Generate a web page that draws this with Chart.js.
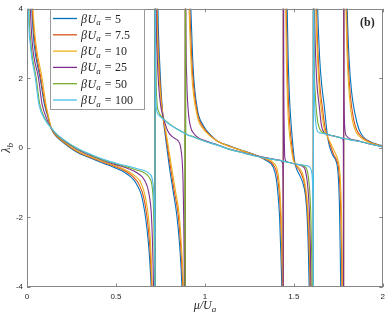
<!DOCTYPE html>
<html>
<head>
<meta charset="utf-8">
<script src="https://cdn.jsdelivr.net/npm/chart.js@4.4.0/dist/chart.umd.min.js"></script>
<style>
  html, body { margin: 0; padding: 0; background: #fff; }
  canvas { display: block; }
</style>
</head>
<body>
<canvas id="chart" width="390" height="317"></canvas>
<script>
// lambda_b against mu/U_a, one array of [mu, lambda] pairs per beta*U_a.
// Values past +-4 only carry the lines off the axes at the poles.
const b5 = [
  [0.008, 9], [0.02, 5], [0.027, 4], [0.04, 3], [0.074, 2.0], [0.098, 1.25], [0.12, 0.85], [0.137, 0.55],
  [0.17, 0.3], [0.2, 0.17], [0.28, -0.12], [0.37, -0.32], [0.46, -0.5], [0.53, -0.65], [0.57, -0.78],
  [0.6, -0.92], [0.62, -1.08], [0.644, -1.37], [0.665, -1.95], [0.68, -2.6], [0.69, -3.24], [0.70, -4.3], [0.7195, -9],
  [0.7205, 9], [0.732, 5], [0.738, 3.5], [0.744, 2.65], [0.752, 1.8], [0.764, 0.92], [0.776, 0.41], [0.80, -0.53],
  [0.82, -1.2], [0.842, -1.93], [0.858, -2.8], [0.871, -4.0], [0.876, -5], [0.8893, -9],
  [0.8907, 9], [0.905, 6], [0.921, 4], [0.935, 2.2], [0.958, 1.1], [0.99, 0.65], [1.03, 0.38], [1.069, 0.2],
  [1.143, 0.05], [1.22, -0.09], [1.29, -0.22], [1.34, -0.35], [1.384, -0.55], [1.40, -0.85], [1.41, -1.28],
  [1.42, -2.0], [1.428, -3.2], [1.433, -4.3], [1.4405, -9],
  [1.4415, 9], [1.455, 6], [1.462, 4.2], [1.468, 2.6], [1.476, 1.4], [1.486, 0.6], [1.496, 0.0], [1.505, -0.4],
  [1.515, -0.6], [1.532, -0.78], [1.55, -1.0], [1.565, -1.35], [1.575, -2.0], [1.582, -3.0], [1.587, -4.2], [1.6095, -9],
  [1.6105, 9], [1.625, 6], [1.634, 4], [1.645, 2.6], [1.657, 1.8], [1.67, 1.25], [1.68, 0.75], [1.689, 0.35],
  [1.70, 0.05], [1.72, -0.22], [1.735, -0.35], [1.745, -0.55], [1.752, -1.0], [1.757, -1.8], [1.761, -3.0],
  [1.764, -4.2], [1.7795, -9],
  [1.7805, 9], [1.792, 6], [1.80, 4], [1.81, 2.6], [1.825, 1.6], [1.845, 0.95], [1.865, 0.55], [1.89, 0.32],
  [1.93, 0.18], [1.97, 0.1], [2.0, 0.06]
];
const b7_5 = [
  [0.01, 9], [0.022, 5], [0.03, 4], [0.045, 3], [0.078, 2.0], [0.1, 1.3], [0.12, 0.88], [0.137, 0.55],
  [0.17, 0.32], [0.2, 0.19], [0.28, -0.1], [0.37, -0.3], [0.46, -0.47], [0.53, -0.61], [0.57, -0.72],
  [0.6, -0.85], [0.63, -1.05], [0.655, -1.4], [0.675, -2.0], [0.69, -2.8], [0.697, -3.5], [0.703, -4.3], [0.7195, -9],
  [0.7205, 9], [0.729, 5], [0.734, 3.5], [0.74, 2.65], [0.749, 1.8], [0.764, 0.92], [0.779, 0.41], [0.806, -0.53],
  [0.828, -1.25], [0.85, -1.93], [0.865, -2.9], [0.876, -4.0], [0.881, -5], [0.8893, -9],
  [0.8907, 9], [0.903, 6], [0.915, 4], [0.93, 2.2], [0.958, 1.0], [0.99, 0.6], [1.03, 0.36], [1.069, 0.2],
  [1.143, 0.04], [1.22, -0.1], [1.29, -0.22], [1.34, -0.32], [1.384, -0.48], [1.405, -0.75], [1.418, -1.28],
  [1.426, -2.0], [1.432, -3.0], [1.436, -4.2], [1.4405, -9],
  [1.4415, 9], [1.451, 6], [1.457, 4.2], [1.462, 2.6], [1.469, 1.4], [1.478, 0.6], [1.49, 0.0], [1.50, -0.35],
  [1.515, -0.53], [1.532, -0.65], [1.55, -0.85], [1.562, -1.09], [1.575, -1.7], [1.584, -2.6], [1.59, -3.6],
  [1.593, -4.3], [1.6095, -9],
  [1.6105, 9], [1.62, 6], [1.627, 4], [1.637, 2.6], [1.648, 1.7], [1.662, 1.1], [1.675, 0.6], [1.689, 0.33],
  [1.705, 0.08], [1.725, -0.2], [1.742, -0.37], [1.752, -0.6], [1.759, -1.1], [1.764, -1.9], [1.768, -3.0],
  [1.771, -4.2], [1.7795, -9],
  [1.7805, 9], [1.789, 6], [1.796, 4], [1.805, 2.5], [1.818, 1.5], [1.835, 0.85], [1.855, 0.5], [1.885, 0.3],
  [1.93, 0.16], [1.97, 0.09], [2.0, 0.05]
];
const b10 = [
  [0.012, 9], [0.025, 5], [0.033, 4], [0.05, 3], [0.085, 2.0], [0.105, 1.3], [0.122, 0.88], [0.137, 0.57],
  [0.17, 0.34], [0.2, 0.2], [0.28, -0.08], [0.37, -0.28], [0.46, -0.45], [0.53, -0.58], [0.57, -0.68],
  [0.61, -0.82], [0.64, -1.0], [0.665, -1.4], [0.685, -2.1], [0.697, -3.0], [0.705, -4.3], [0.7195, -9],
  [0.7205, 9], [0.727, 5], [0.731, 3.5], [0.737, 2.65], [0.746, 1.8], [0.764, 0.92], [0.782, 0.43], [0.812, -0.53],
  [0.835, -1.25], [0.856, -1.93], [0.869, -2.9], [0.879, -4.0], [0.883, -5], [0.8893, -9],
  [0.8907, 9], [0.901, 6], [0.911, 4], [0.925, 2.2], [0.958, 0.9], [0.99, 0.55], [1.03, 0.34], [1.069, 0.2],
  [1.143, 0.03], [1.22, -0.1], [1.29, -0.22], [1.34, -0.31], [1.384, -0.42], [1.41, -0.7], [1.422, -1.28],
  [1.43, -2.1], [1.435, -3.2], [1.438, -4.2], [1.4405, -9],
  [1.4415, 9], [1.449, 6], [1.454, 4.2], [1.458, 2.6], [1.464, 1.4], [1.472, 0.6], [1.485, 0.0], [1.497, -0.35],
  [1.515, -0.5], [1.535, -0.6], [1.55, -0.75], [1.565, -1.09], [1.578, -1.7], [1.587, -2.6], [1.593, -3.6],
  [1.596, -4.3], [1.6095, -9],
  [1.6105, 9], [1.618, 6], [1.624, 4], [1.633, 2.6], [1.643, 1.7], [1.655, 1.1], [1.669, 0.6], [1.689, 0.33],
  [1.71, 0.1], [1.73, -0.12], [1.748, -0.35], [1.758, -0.65], [1.764, -1.2], [1.769, -2.1], [1.772, -3.2],
  [1.774, -4.2], [1.7795, -9],
  [1.7805, 9], [1.787, 6], [1.793, 4], [1.801, 2.5], [1.812, 1.5], [1.828, 0.82], [1.85, 0.46], [1.88, 0.28],
  [1.93, 0.15], [1.97, 0.08], [2.0, 0.04]
];
const b25 = [
  [0.006, 9], [0.014, 5], [0.019, 4], [0.03, 3], [0.065, 2.0], [0.085, 1.25], [0.11, 0.85], [0.137, 0.56],
  [0.17, 0.36], [0.2, 0.23], [0.28, -0.04], [0.37, -0.25], [0.46, -0.42], [0.53, -0.53], [0.57, -0.6],
  [0.62, -0.72], [0.66, -0.92], [0.685, -1.3], [0.70, -2.0], [0.708, -3.2], [0.712, -4.3], [0.7195, -9],
  [0.7205, 9], [0.724, 5], [0.727, 3.5], [0.732, 2.65], [0.74, 1.8], [0.752, 1.2], [0.764, 0.92], [0.79, 0.5],
  [0.815, 0.33], [0.835, 0.26], [0.85, 0.2], [0.86, 0.1], [0.866, -0.06], [0.872, -0.35], [0.877, -0.9],
  [0.881, -2.0], [0.884, -3.5], [0.8855, -4.5], [0.8893, -9],
  [0.8907, 9], [0.893, 4], [0.898, 2.0], [0.906, 1.1], [0.92, 0.6], [0.94, 0.4], [0.958, 0.31], [1.0, 0.21],
  [1.07, 0.09], [1.143, -0.04], [1.22, -0.14], [1.29, -0.23], [1.384, -0.32], [1.425, -0.36], [1.436, -0.42],
  [1.4395, -1.0], [1.4405, -9],
  [1.4415, 9], [1.443, 3], [1.446, 0.5], [1.45, -0.3], [1.46, -0.4], [1.49, -0.44], [1.52, -0.48], [1.55, -0.53],
  [1.565, -0.65], [1.578, -1.09], [1.587, -1.8], [1.593, -2.8], [1.597, -4.2], [1.6095, -9],
  [1.6105, 9], [1.614, 5], [1.618, 3.5], [1.628, 2.0], [1.643, 1.2], [1.655, 0.65], [1.67, 0.44], [1.70, 0.37],
  [1.735, 0.33], [1.765, 0.29], [1.776, 0.25], [1.7785, 0.1], [1.7795, -9],
  [1.7805, 9], [1.782, 2], [1.786, 0.6], [1.795, 0.35], [1.85, 0.22], [1.884, 0.17], [1.94, 0.1], [2.0, 0.03]
];
const b50 = [
  [0.004, 9], [0.008, 5], [0.011, 4], [0.022, 3], [0.052, 2.0], [0.072, 1.25], [0.1, 0.85], [0.137, 0.57],
  [0.17, 0.37], [0.2, 0.25], [0.28, -0.02], [0.37, -0.23], [0.46, -0.4], [0.53, -0.5], [0.57, -0.56],
  [0.62, -0.64], [0.66, -0.72], [0.69, -0.87], [0.703, -1.1], [0.711, -1.7], [0.715, -2.8], [0.7175, -4.3], [0.7195, -9],
  [0.7205, 9], [0.7225, 4], [0.726, 2.0], [0.731, 1.3], [0.74, 1.05], [0.764, 0.86], [0.80, 0.69], [0.85, 0.53],
  [0.88, 0.45], [0.8875, 0.38], [0.8893, -9],
  [0.8907, 9], [0.8925, 0.42], [0.92, 0.35], [0.958, 0.27], [1.0, 0.19], [1.07, 0.08], [1.143, -0.05],
  [1.22, -0.15], [1.29, -0.24], [1.384, -0.33], [1.44, -0.38], [1.49, -0.44], [1.53, -0.48], [1.56, -0.53],
  [1.575, -0.65], [1.587, -1.09], [1.596, -2.0], [1.601, -3.3], [1.603, -4.3], [1.6095, -9],
  [1.6105, 9], [1.614, 3], [1.62, 1.6], [1.63, 0.9], [1.645, 0.55], [1.67, 0.43], [1.70, 0.38], [1.735, 0.33],
  [1.78, 0.27], [1.83, 0.22], [1.884, 0.17], [1.94, 0.1], [2.0, 0.03]
];
const b100 = [
  [0.003, 9], [0.006, 5], [0.008, 4], [0.018, 3], [0.047, 2.0], [0.067, 1.25], [0.1, 0.82], [0.137, 0.57],
  [0.17, 0.38], [0.2, 0.26], [0.28, 0.0], [0.37, -0.21], [0.46, -0.38], [0.53, -0.48], [0.57, -0.53],
  [0.62, -0.6], [0.66, -0.66], [0.69, -0.75], [0.705, -0.92], [0.713, -1.4], [0.717, -2.4], [0.7188, -4.3], [0.7195, -9],
  [0.7205, 9], [0.7222, 3], [0.724, 1.5], [0.728, 1.1], [0.74, 0.95], [0.764, 0.84], [0.80, 0.68], [0.85, 0.52],
  [0.89, 0.41], [0.958, 0.27], [1.0, 0.19], [1.07, 0.08], [1.143, -0.05], [1.22, -0.15], [1.29, -0.24],
  [1.384, -0.33], [1.44, -0.38], [1.49, -0.44], [1.53, -0.48], [1.57, -0.51], [1.59, -0.56], [1.60, -0.7],
  [1.605, -1.0], [1.6075, -1.8], [1.609, -4], [1.6095, -9],
  [1.6105, 9], [1.613, 3], [1.617, 1.3], [1.624, 0.7], [1.634, 0.47], [1.67, 0.41], [1.70, 0.37], [1.735, 0.33],
  [1.78, 0.27], [1.83, 0.22], [1.884, 0.17], [1.94, 0.1], [2.0, 0.03]
];

const betaLabels = ['5', '7.5', '10', '25', '50', '100'];
const colours = ['#0072BD', '#D95319', '#EDB120', '#7E2F8E', '#77AC30', '#4DBEEE'];
const muTicks = [0, 0.5, 1, 1.5, 2];
const lamTicks = [-4, -2, 0, 2, 4];

const series = [b5, b7_5, b10, b25, b50, b100];

const AXIS_COL = '#868686';
const TEXT_COL = '#262626';

// draws "<main>_<sub>" in italic serif
function mathText(ctx, main, sub, x, y, size) {
    ctx.font = `italic ${size}px "Liberation Serif"`;
    ctx.fillText(main, x, y);
    const w = ctx.measureText(main).width;
    ctx.font = `italic ${Math.round(size * 0.72)}px "Liberation Serif"`;
    ctx.fillText(sub, x + w, y + size * 0.22);
}

function mathWidth(ctx, main, sub, size) {
    ctx.font = `italic ${size}px "Liberation Serif"`;
    const w = ctx.measureText(main).width;
    ctx.font = `italic ${Math.round(size * 0.72)}px "Liberation Serif"`;
    return w + ctx.measureText(sub).width;
}

const decorPlugin = {
    id: 'decor',
    afterDatasetsDraw(chart) {
        const { ctx, chartArea: a, scales } = chart;
        ctx.save();

        // axes box with inward ticks
        ctx.strokeStyle = AXIS_COL;
        ctx.lineWidth = 1;
        ctx.strokeRect(Math.round(a.left) + 0.5, Math.round(a.top) + 0.5,
            Math.round(a.right - a.left) - 1, Math.round(a.bottom - a.top) - 1);
        ctx.beginPath();
        muTicks.forEach(v => {
            const px = Math.round(scales.x.getPixelForValue(v)) + 0.5;
            ctx.moveTo(px, a.bottom); ctx.lineTo(px, a.bottom - 3.5);
            ctx.moveTo(px, a.top); ctx.lineTo(px, a.top + 3.5);
        });
        lamTicks.forEach(v => {
            const py = Math.round(scales.y.getPixelForValue(v)) + 0.5;
            ctx.moveTo(a.left, py); ctx.lineTo(a.left + 3.5, py);
            ctx.moveTo(a.right, py); ctx.lineTo(a.right - 3.5, py);
        });
        ctx.stroke();

        // legend
        const lx = 50, ly = 9, lw = 94, lh = 100;
        ctx.fillStyle = '#fff';
        ctx.fillRect(lx, ly, lw, lh);
        ctx.strokeStyle = '#9a9a9a';
        ctx.strokeRect(lx + 0.5, ly + 0.5, lw, lh);
        betaLabels.forEach((b, i) => {
            const cy = 18.5 + i * 16.3;
            ctx.strokeStyle = colours[i];
            ctx.lineWidth = 1.3;
            ctx.beginPath();
            ctx.moveTo(53, cy); ctx.lineTo(77, cy);
            ctx.stroke();
            ctx.fillStyle = TEXT_COL;
            const base = cy + 4;
            ctx.font = 'italic 12px "Liberation Serif"';
            ctx.fillText('\u03B2', 81, base);
            let x = 81 + ctx.measureText('\u03B2').width + 0.5;
            mathText(ctx, 'U', 'a', x, base, 12);
            x += mathWidth(ctx, 'U', 'a', 12) + 4;
            ctx.font = '12px "Liberation Serif"';
            ctx.fillText('=', x, base);
            x += ctx.measureText('=').width + 3.5;
            ctx.fillText(b, x, base);
        });

        // axis titles
        ctx.fillStyle = TEXT_COL;
        const xw = mathWidth(ctx, '\u03BC/U', 'a', 12);
        mathText(ctx, '\u03BC/U', 'a', (a.left + a.right) / 2 - xw / 2, 309, 12);

        ctx.save();
        ctx.translate(10, (a.top + a.bottom) / 2);
        ctx.rotate(-Math.PI / 2);
        const yw = mathWidth(ctx, '\u03BB', 'b', 12);
        mathText(ctx, '\u03BB', 'b', -yw / 2, 0, 12);
        ctx.restore();

        // panel tag
        ctx.font = 'bold 12px "Liberation Serif"';
        ctx.fillText('(b)', 360, 26);

        ctx.restore();
    }
};

const datasets = series.map((pts, i) => ({
    label: 'betaU_a = ' + betaLabels[i],
    data: pts.map(p => ({ x: p[0], y: p[1] })),
    borderColor: colours[i],
    borderWidth: 1.1,
    pointRadius: 0,
    fill: false,
    cubicInterpolationMode: 'monotone',
    order: series.length - i   // last series drawn on top
}));

new Chart(document.getElementById('chart'), {
    type: 'line',
    data: { datasets },
    options: {
        responsive: false,
        animation: false,
        devicePixelRatio: 1,
        layout: { padding: { top: 2, right: 2, left: 0, bottom: 0 } },
        plugins: {
            legend: { display: false },
            tooltip: { enabled: false },
            title: { display: false }
        },
        scales: {
            x: {
                type: 'linear',
                min: 0,
                max: 2,
                afterFit: s => { s.height = 30; },
                afterBuildTicks: s => { s.ticks = muTicks.map(v => ({ value: v })); },
                ticks: {
                    callback: v => String(v),
                    font: { family: '"Liberation Sans"', size: 8 },
                    color: TEXT_COL,
                    padding: 5,
                    maxRotation: 0
                },
                grid: { display: false, drawTicks: false },
                border: { display: false }
            },
            y: {
                type: 'linear',
                min: -4,
                max: 4,
                afterFit: s => { s.width = 27; },
                afterBuildTicks: s => { s.ticks = lamTicks.map(v => ({ value: v })); },
                ticks: {
                    callback: v => String(v),
                    font: { family: '"Liberation Sans"', size: 8 },
                    color: TEXT_COL,
                    padding: 4
                },
                grid: { display: false, drawTicks: false },
                border: { display: false }
            }
        }
    },
    plugins: [decorPlugin]
});
</script>
</body>
</html>
